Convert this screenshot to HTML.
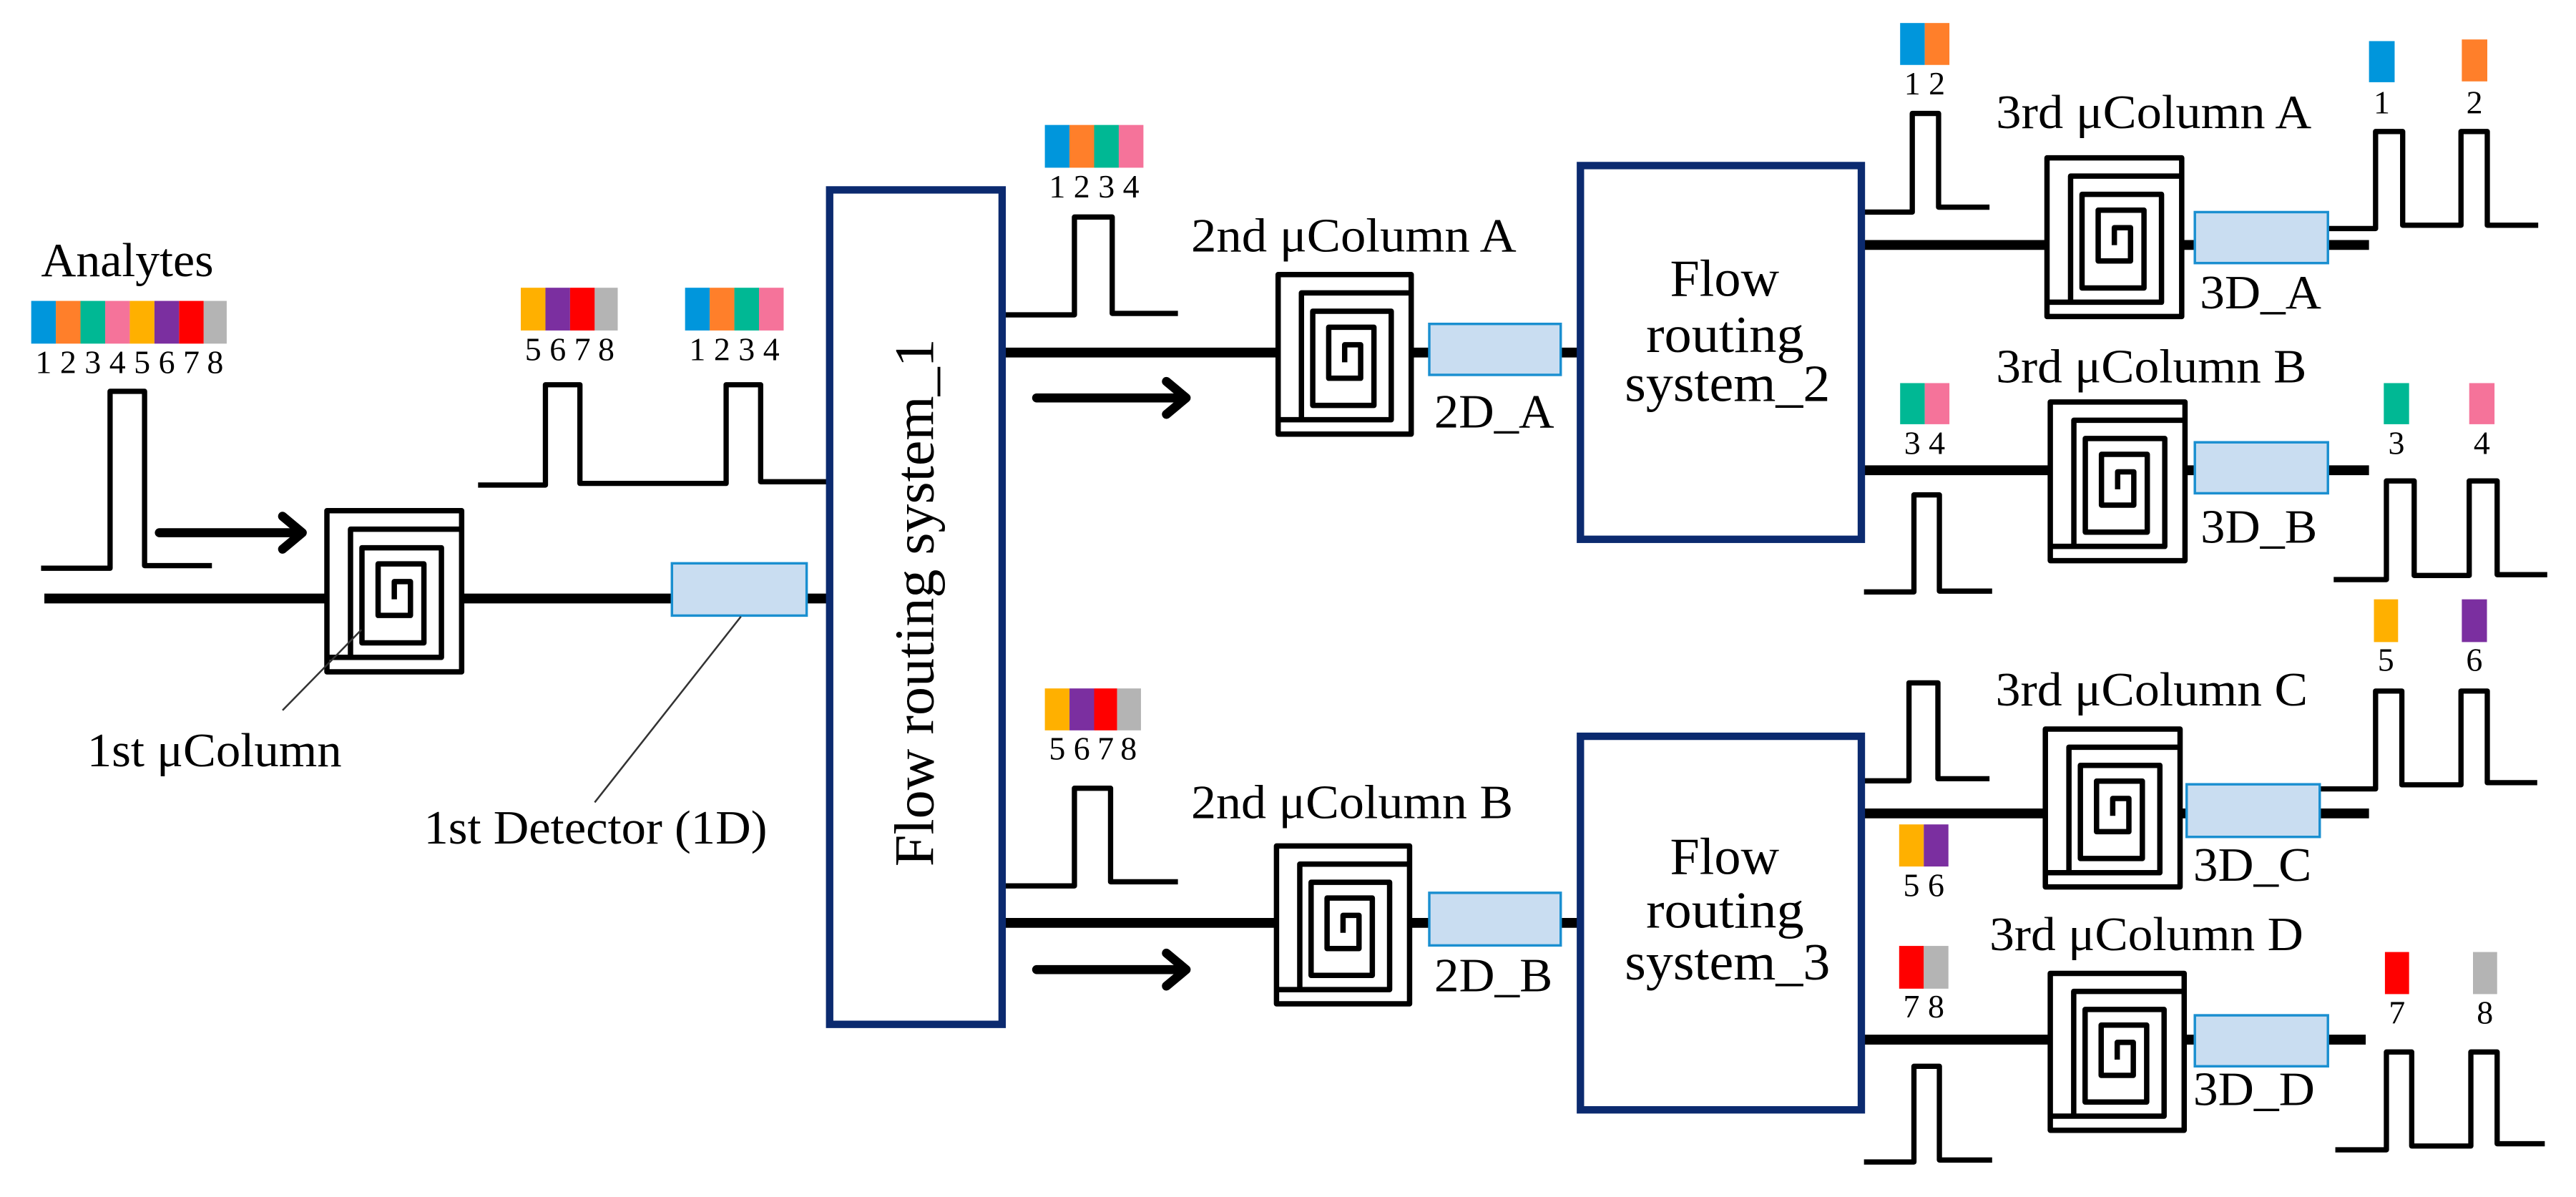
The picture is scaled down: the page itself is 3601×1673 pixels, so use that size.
<!DOCTYPE html>
<html><head><meta charset="utf-8"><style>
html,body{margin:0;padding:0;background:#fff;}
svg{display:block;}
svg text{font-family:"Liberation Serif","Noto Serif CJK SC","DejaVu Serif",serif !important;fill:#000;}
</style></head><body>
<svg width="3601" height="1673" viewBox="0 0 1568 728" preserveAspectRatio="none" xmlns="http://www.w3.org/2000/svg">
<defs>
<path id="sp" d="M0,0H1V1H0Z M1,0.115H0.175V0.91 M0,0.91H0.85V0.23H0.26V0.82H0.72V0.33H0.38V0.65H0.62V0.44H0.5V0.55" fill="none" stroke="#000" stroke-width="7.5" vector-effect="non-scaling-stroke" stroke-linejoin="round"/>
</defs>
<rect width="1568" height="728" fill="#fff"/>

<g stroke="#000" stroke-width="6" fill="none">
<line x1="27" y1="364" x2="505" y2="364"/>
<line x1="609" y1="214.4" x2="962" y2="214.4"/>
<line x1="609" y1="561.3" x2="962" y2="561.3"/>
<line x1="1133" y1="149" x2="1442" y2="149"/>
<line x1="1133" y1="286" x2="1442" y2="286"/>
<line x1="1133" y1="494.7" x2="1442" y2="494.7"/>
<line x1="1133" y1="632.3" x2="1440" y2="632.3"/>
</g>

<g stroke="#000" stroke-width="5.5" fill="none" stroke-linecap="round" stroke-linejoin="round">
<line x1="97" y1="324" x2="182" y2="324"/><polyline points="172,314 184,324 172,334"/>
<line x1="631" y1="242" x2="720" y2="242"/><polyline points="710,232 722,242 710,252"/>
<line x1="631" y1="589.7" x2="720" y2="589.7"/><polyline points="710,579.7 722,589.7 710,599.7"/>
</g>

<g stroke="#000" stroke-width="3.2" fill="none" stroke-linejoin="round">
<polyline points="25,345.6 67,345.6 67,238 88,238 88,344 129,344"/>
<polyline points="291,295 332,295 332,234 353,234 353,294 442,294 442,234 463,234 463,293 505,293"/>
<polyline points="612,191.5 654,191.5 654,132 677,132 677,190.6 717,190.6"/>
<polyline points="612,538.8 654,538.8 654,479.4 676,479.4 676,536.3 717,536.3"/>
<polyline points="1133,129 1164,129 1164,69 1180,69 1180,126 1211,126"/>
<polyline points="1417,139 1446,139 1446,80 1462.5,80 1462.5,137 1498,137 1498,80 1514,80 1514,137 1545,137"/>
<polyline points="1134.6,360 1165,360 1165,301 1180.5,301 1180.5,359.5 1212.6,359.5"/>
<polyline points="1420.5,352.5 1452.6,352.5 1452.6,292.5 1469.5,292.5 1469.5,350 1503,350 1503,292.5 1520,292.5 1520,349.5 1550.5,349.5"/>
<polyline points="1133,474.9 1162,474.9 1162,415.3 1179.6,415.3 1179.6,473.6 1211,473.6"/>
<polyline points="1412,479.8 1446,479.8 1446,420.3 1462,420.3 1462,477.3 1498,477.3 1498,420.3 1514,420.3 1514,476 1544.4,476"/>
<polyline points="1134.6,706.7 1165,706.7 1165,648.5 1180.5,648.5 1180.5,705.5 1212.6,705.5"/>
<polyline points="1421.5,699.3 1452.6,699.3 1452.6,639.8 1468,639.8 1468,697 1504,697 1504,639.8 1520,639.8 1520,695.6 1549,695.6"/>
</g>

<g fill="#fff">
<rect x="199" y="310.6" width="82" height="98"/>
<rect x="778" y="167" width="81" height="97"/>
<rect x="777" y="514.5" width="81" height="96"/>
<rect x="1246" y="96" width="82" height="96.5"/>
<rect x="1248" y="244.5" width="82" height="96.5"/>
<rect x="1245" y="443.4" width="82" height="96"/>
<rect x="1248" y="592" width="81.5" height="95.4"/>
</g>
<use href="#sp" transform="translate(199,310.6) scale(82,98)"/>
<use href="#sp" transform="translate(778,167) scale(81,97)"/>
<use href="#sp" transform="translate(777,514.5) scale(81,96)"/>
<use href="#sp" transform="translate(1246,96) scale(82,96.5)"/>
<use href="#sp" transform="translate(1248,244.5) scale(82,96.5)"/>
<use href="#sp" transform="translate(1245,443.4) scale(82,96)"/>
<use href="#sp" transform="translate(1248,592) scale(81.5,95.4)"/>

<g fill="#c9ddf1" stroke="#1a8fd0" stroke-width="1.5">
<rect x="409" y="342.6" width="82" height="31.8"/>
<rect x="870" y="197" width="80" height="31"/>
<rect x="870" y="543" width="80" height="32"/>
<rect x="1336" y="129" width="81" height="31"/>
<rect x="1336" y="269" width="81" height="31"/>
<rect x="1331" y="477" width="81" height="32"/>
<rect x="1336" y="617.5" width="81" height="31"/>
</g>

<g fill="#fff" stroke="#0b2a6f" stroke-width="4.5">
<rect x="505" y="115.5" width="105" height="507.5"/>
<rect x="962" y="100.7" width="171" height="227.3"/>
<rect x="962" y="447.8" width="171" height="227.2"/>
</g>

<g stroke="#333" stroke-width="1.1">
<line x1="220" y1="383" x2="172" y2="432"/>
<line x1="451" y1="375" x2="362" y2="488"/>
</g>

<g>
<rect x="19" y="183" width="15" height="26" fill="#0096dc"/><rect x="34" y="183" width="15" height="26" fill="#ff7f2a"/><rect x="49" y="183" width="15" height="26" fill="#00b894"/><rect x="64" y="183" width="15" height="26" fill="#f5739a"/><rect x="79" y="183" width="15" height="26" fill="#ffb000"/><rect x="94" y="183" width="15" height="26" fill="#7b2fa0"/><rect x="109" y="183" width="15" height="26" fill="#ff0000"/><rect x="124" y="183" width="14" height="26" fill="#b4b4b4"/>
<rect x="317" y="175" width="15" height="26" fill="#ffb000"/><rect x="332" y="175" width="15" height="26" fill="#7b2fa0"/><rect x="347" y="175" width="15" height="26" fill="#ff0000"/><rect x="362" y="175" width="14" height="26" fill="#b4b4b4"/>
<rect x="417" y="175" width="15" height="26" fill="#0096dc"/><rect x="432" y="175" width="15" height="26" fill="#ff7f2a"/><rect x="447" y="175" width="15" height="26" fill="#00b894"/><rect x="462" y="175" width="15" height="26" fill="#f5739a"/>
<rect x="636" y="76" width="15" height="26" fill="#0096dc"/><rect x="651" y="76" width="15" height="26" fill="#ff7f2a"/><rect x="666" y="76" width="15" height="26" fill="#00b894"/><rect x="681" y="76" width="15" height="26" fill="#f5739a"/>
<rect x="636" y="418.7" width="15" height="25.5" fill="#ffb000"/><rect x="651" y="418.7" width="15" height="25.5" fill="#7b2fa0"/><rect x="666" y="418.7" width="14" height="25.5" fill="#ff0000"/><rect x="680" y="418.7" width="14.5" height="25.5" fill="#b4b4b4"/>
<rect x="1156.6" y="14" width="15" height="25.5" fill="#0096dc"/><rect x="1171.6" y="14" width="15" height="25.5" fill="#ff7f2a"/>
<rect x="1156.6" y="233" width="15" height="25" fill="#00b894"/><rect x="1171.6" y="233" width="15" height="25" fill="#f5739a"/>
<rect x="1156" y="501.4" width="15" height="25.6" fill="#ffb000"/><rect x="1171" y="501.4" width="15" height="25.6" fill="#7b2fa0"/>
<rect x="1156" y="575.3" width="15" height="26" fill="#ff0000"/><rect x="1171" y="575.3" width="15" height="26" fill="#b4b4b4"/>
<rect x="1442" y="25" width="15.6" height="25" fill="#0096dc"/>
<rect x="1498.5" y="24" width="15.5" height="25.5" fill="#ff7f2a"/>
<rect x="1451" y="233" width="15.4" height="25" fill="#00b894"/>
<rect x="1503" y="233" width="15.4" height="25" fill="#f5739a"/>
<rect x="1445" y="364.5" width="14.7" height="26" fill="#ffb000"/>
<rect x="1498.5" y="364.5" width="15.3" height="26" fill="#7b2fa0"/>
<rect x="1451.7" y="579" width="14.7" height="25.6" fill="#ff0000"/>
<rect x="1505.3" y="579" width="14.7" height="25.6" fill="#b4b4b4"/>
</g>

<g font-size="20" text-anchor="middle">
<text x="26.5" y="227">1</text><text x="41.5" y="227">2</text><text x="56.5" y="227">3</text><text x="71.5" y="227">4</text><text x="86.5" y="227">5</text><text x="101.5" y="227">6</text><text x="116.5" y="227">7</text><text x="131" y="227">8</text>
<text x="324.5" y="219">5</text><text x="339.5" y="219">6</text><text x="354.5" y="219">7</text><text x="369" y="219">8</text>
<text x="424.5" y="219">1</text><text x="439.5" y="219">2</text><text x="454.5" y="219">3</text><text x="469.5" y="219">4</text>
<text x="643.5" y="120">1</text><text x="658.5" y="120">2</text><text x="673.5" y="120">3</text><text x="688.5" y="120">4</text>
<text x="643.5" y="462">5</text><text x="658.5" y="462">6</text><text x="673" y="462">7</text><text x="687" y="462">8</text>
<text x="1164" y="57.5">1</text><text x="1179" y="57.5">2</text>
<text x="1164" y="276">3</text><text x="1179" y="276">4</text>
<text x="1163.5" y="545">5</text><text x="1178.5" y="545">6</text>
<text x="1163.5" y="618.7">7</text><text x="1178.5" y="618.7">8</text>
<text x="1449.8" y="69">1</text><text x="1506.2" y="69">2</text>
<text x="1458.7" y="276">3</text><text x="1510.7" y="276">4</text>
<text x="1452.3" y="408">5</text><text x="1506.1" y="408">6</text>
<text x="1459" y="622.4">7</text><text x="1512.6" y="622.4">8</text>
</g>

<g font-size="29">
<text x="25" y="168" textLength="105" lengthAdjust="spacingAndGlyphs">Analytes</text>
<text x="53" y="466" textLength="155" lengthAdjust="spacingAndGlyphs">1st μColumn</text>
<text x="258" y="513" textLength="209" lengthAdjust="spacingAndGlyphs">1st Detector (1D)</text>
<text x="725" y="153" textLength="198" lengthAdjust="spacingAndGlyphs">2nd μColumn A</text>
<text x="873" y="260" textLength="73" lengthAdjust="spacingAndGlyphs">2D_A</text>
<text x="725" y="497.5" textLength="196" lengthAdjust="spacingAndGlyphs">2nd μColumn B</text>
<text x="873" y="603" textLength="72" lengthAdjust="spacingAndGlyphs">2D_B</text>
<text x="1215" y="78" textLength="192" lengthAdjust="spacingAndGlyphs">3rd μColumn A</text>
<text x="1339" y="187.5" textLength="74" lengthAdjust="spacingAndGlyphs">3D_A</text>
<text x="1215" y="232.5" textLength="189" lengthAdjust="spacingAndGlyphs">3rd μColumn B</text>
<text x="1339.5" y="330" textLength="71" lengthAdjust="spacingAndGlyphs">3D_B</text>
<text x="1214.7" y="429" textLength="190" lengthAdjust="spacingAndGlyphs">3rd μColumn C</text>
<text x="1335" y="535.6" textLength="72" lengthAdjust="spacingAndGlyphs">3D_C</text>
<text x="1211" y="577.8" textLength="191" lengthAdjust="spacingAndGlyphs">3rd μColumn D</text>
<text x="1335" y="672" textLength="74" lengthAdjust="spacingAndGlyphs">3D_D</text>
</g>
<g font-size="32">
<text x="1016.5" y="180" textLength="66.5" lengthAdjust="spacingAndGlyphs">Flow</text>
<text x="1002" y="214" textLength="96" lengthAdjust="spacingAndGlyphs">routing</text>
<text x="989" y="244" textLength="125" lengthAdjust="spacingAndGlyphs">system_2</text>
<text x="1016.5" y="531.5" textLength="66.5" lengthAdjust="spacingAndGlyphs">Flow</text>
<text x="1002" y="564.2" textLength="96" lengthAdjust="spacingAndGlyphs">routing</text>
<text x="989" y="595.8" textLength="125" lengthAdjust="spacingAndGlyphs">system_3</text>
</g>
<text transform="translate(568,527) rotate(-90)" font-size="34" textLength="321" lengthAdjust="spacingAndGlyphs">Flow routing system_1</text>
</svg>
</body></html>
